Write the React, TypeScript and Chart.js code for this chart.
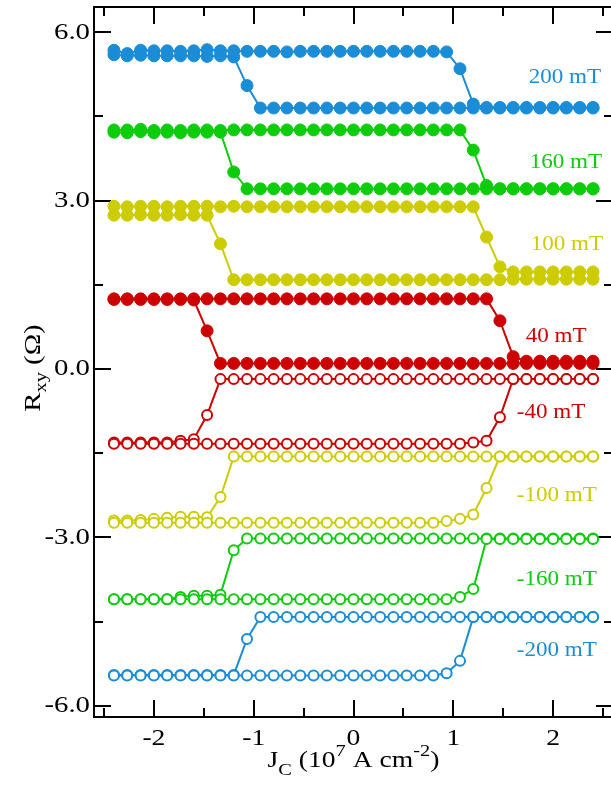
import React, { useEffect, useRef } from "react";
import { Chart, registerables } from "chart.js";

Chart.register(...registerables);

// Current density sweep points, J_C in 10^7 A cm^-2
const J_C = [
  -2.4, -2.267, -2.133, -2.0, -1.867, -1.733, -1.6, -1.467, -1.333, -1.2,
  -1.067, -0.933, -0.8, -0.667, -0.533, -0.4, -0.267, -0.133, 0, 0.133,
  0.267, 0.4, 0.533, 0.667, 0.8, 0.933, 1.067, 1.2, 1.333, 1.467,
  1.6, 1.733, 1.867, 2.0, 2.133, 2.267, 2.4,
];

// R_xy (Ω), increasing-current branch ("UP") and decreasing-current branch ("DN"),
// both listed in the order of J_C above.
const UP_200 = [
  5.68, 5.62, 5.68, 5.67, 5.67, 5.66, 5.67, 5.69, 5.67, 5.67,
  5.66, 5.66, 5.66, 5.65, 5.66, 5.66, 5.66, 5.66, 5.66, 5.66,
  5.66, 5.66, 5.66, 5.66, 5.66, 5.65, 5.35, 4.72, 4.66, 4.66,
  4.66, 4.66, 4.66, 4.66, 4.66, 4.66, 4.66,
];
const DN_200 = [
  5.6, 5.58, 5.59, 5.58, 5.58, 5.58, 5.58, 5.57, 5.58, 5.56,
  5.05, 4.65, 4.65, 4.65, 4.65, 4.65, 4.65, 4.65, 4.65, 4.65,
  4.65, 4.65, 4.65, 4.65, 4.65, 4.65, 4.65, 4.65, 4.65, 4.65,
  4.65, 4.65, 4.65, 4.65, 4.65, 4.65, 4.65,
];

const UP_160 = [
  4.26, 4.26, 4.27, 4.25, 4.26, 4.25, 4.26, 4.26, 4.25, 4.26,
  4.26, 4.26, 4.26, 4.26, 4.26, 4.26, 4.26, 4.26, 4.26, 4.26,
  4.26, 4.26, 4.26, 4.26, 4.26, 4.26, 4.26, 3.9, 3.27, 3.21,
  3.21, 3.21, 3.21, 3.21, 3.21, 3.21, 3.21,
];
const DN_160 = [
  4.22, 4.21, 4.23, 4.21, 4.22, 4.21, 4.22, 4.22, 4.22, 3.51,
  3.21, 3.21, 3.21, 3.21, 3.21, 3.21, 3.21, 3.21, 3.21, 3.21,
  3.21, 3.21, 3.21, 3.21, 3.21, 3.21, 3.21, 3.21, 3.21, 3.21,
  3.21, 3.21, 3.21, 3.21, 3.21, 3.21, 3.21,
];

const UP_100 = [
  2.9, 2.89, 2.9, 2.9, 2.89, 2.9, 2.9, 2.9, 2.89, 2.9,
  2.89, 2.89, 2.89, 2.89, 2.89, 2.89, 2.89, 2.89, 2.89, 2.89,
  2.89, 2.89, 2.89, 2.89, 2.89, 2.89, 2.89, 2.89, 2.35, 1.82,
  1.73, 1.73, 1.73, 1.73, 1.73, 1.73, 1.73,
];
const DN_100 = [
  2.74, 2.74, 2.75, 2.74, 2.74, 2.75, 2.74, 2.74, 2.23, 1.59,
  1.59, 1.59, 1.59, 1.59, 1.59, 1.59, 1.59, 1.59, 1.59, 1.59,
  1.59, 1.59, 1.59, 1.59, 1.59, 1.59, 1.59, 1.59, 1.59, 1.59,
  1.6, 1.6, 1.6, 1.6, 1.6, 1.6, 1.6,
];

const UP_40 = [
  1.25, 1.25, 1.25, 1.25, 1.25, 1.25, 1.25, 1.25, 1.25, 1.25,
  1.25, 1.25, 1.25, 1.25, 1.25, 1.25, 1.25, 1.25, 1.25, 1.25,
  1.25, 1.25, 1.25, 1.25, 1.25, 1.25, 1.25, 1.25, 1.25, 0.86,
  0.22, 0.14, 0.14, 0.14, 0.14, 0.14, 0.14,
];
const DN_40 = [
  1.24, 1.24, 1.24, 1.24, 1.24, 1.24, 1.23, 0.68, 0.1, 0.1,
  0.1, 0.1, 0.1, 0.1, 0.1, 0.1, 0.1, 0.1, 0.1, 0.1,
  0.1, 0.1, 0.1, 0.1, 0.1, 0.1, 0.1, 0.1, 0.1, 0.1,
  0.1, 0.1, 0.1, 0.1, 0.1, 0.1, 0.1,
];

const UP_N40 = [
  -1.33, -1.33, -1.33, -1.33, -1.33, -1.33, -1.33, -1.33, -1.33, -1.33,
  -1.33, -1.33, -1.33, -1.33, -1.33, -1.33, -1.33, -1.33, -1.33, -1.33,
  -1.33, -1.33, -1.33, -1.33, -1.33, -1.33, -1.33, -1.31, -1.28, -0.86,
  -0.18, -0.18, -0.18, -0.18, -0.18, -0.18, -0.18,
];
const DN_N40 = [
  -1.31, -1.31, -1.31, -1.31, -1.31, -1.28, -1.25, -0.82, -0.18, -0.18,
  -0.18, -0.18, -0.18, -0.18, -0.18, -0.18, -0.18, -0.18, -0.18, -0.18,
  -0.18, -0.18, -0.18, -0.18, -0.18, -0.18, -0.18, -0.18, -0.18, -0.18,
  -0.18, -0.18, -0.18, -0.18, -0.18, -0.18, -0.18,
];

const UP_N100 = [
  -2.74, -2.74, -2.74, -2.74, -2.74, -2.74, -2.74, -2.74, -2.74, -2.74,
  -2.74, -2.74, -2.74, -2.74, -2.74, -2.74, -2.74, -2.74, -2.74, -2.74,
  -2.74, -2.74, -2.74, -2.74, -2.74, -2.71, -2.67, -2.59, -2.12, -1.56,
  -1.56, -1.56, -1.56, -1.56, -1.56, -1.56, -1.56,
];
const DN_N100 = [
  -2.7, -2.7, -2.69, -2.67, -2.65, -2.63, -2.63, -2.64, -2.28, -1.56,
  -1.56, -1.56, -1.56, -1.56, -1.56, -1.56, -1.56, -1.56, -1.56, -1.56,
  -1.56, -1.56, -1.56, -1.56, -1.56, -1.56, -1.56, -1.56, -1.56, -1.56,
  -1.56, -1.56, -1.56, -1.56, -1.56, -1.56, -1.56,
];

const UP_N160 = [
  -4.1, -4.1, -4.1, -4.1, -4.1, -4.1, -4.1, -4.1, -4.1, -4.1,
  -4.1, -4.1, -4.1, -4.1, -4.1, -4.1, -4.1, -4.1, -4.1, -4.1,
  -4.1, -4.1, -4.1, -4.1, -4.1, -4.1, -4.06, -3.92, -3.03, -3.03,
  -3.03, -3.03, -3.03, -3.03, -3.03, -3.03, -3.03,
];
const DN_N160 = [
  -4.1, -4.1, -4.1, -4.1, -4.1, -4.06, -4.04, -4.04, -4.02, -3.23,
  -3.02, -3.02, -3.02, -3.02, -3.02, -3.02, -3.02, -3.02, -3.02, -3.02,
  -3.02, -3.02, -3.02, -3.02, -3.02, -3.02, -3.02, -3.02, -3.02, -3.02,
  -3.02, -3.02, -3.02, -3.02, -3.02, -3.02, -3.02,
];

const UP_N200 = [
  -5.46, -5.46, -5.46, -5.46, -5.46, -5.46, -5.46, -5.46, -5.46, -5.46,
  -5.46, -5.46, -5.46, -5.46, -5.46, -5.46, -5.46, -5.46, -5.46, -5.46,
  -5.46, -5.46, -5.46, -5.46, -5.46, -5.42, -5.2, -4.42, -4.42, -4.42,
  -4.42, -4.42, -4.42, -4.42, -4.42, -4.42, -4.42,
];
const DN_N200 = [
  -5.45, -5.45, -5.45, -5.45, -5.45, -5.45, -5.45, -5.45, -5.45, -5.45,
  -4.81, -4.42, -4.42, -4.42, -4.42, -4.42, -4.42, -4.42, -4.42, -4.42,
  -4.42, -4.42, -4.42, -4.42, -4.42, -4.42, -4.42, -4.42, -4.42, -4.42,
  -4.42, -4.42, -4.42, -4.42, -4.42, -4.42, -4.42,
];

// Field labels and where each one sits (left edge in J_C, centre in R_xy)
const FIELD_LABELS = ["200 mT", "160 mT", "100 mT", "40 mT", "-40 mT", "-100 mT", "-160 mT", "-200 mT"];
const LABEL_J = [1.755, 1.765, 1.775, 1.725, 1.635, 1.635, 1.635, 1.635];
const LABEL_R = [5.2, 3.69, 2.22, 0.59, -0.77, -2.25, -3.74, -5.01];

// Axis ticks
const X_MAJOR = [-2, -1, 0, 1, 2];
const X_TICK_LABELS = ["-2", "-1", "0", "1", "2"];
const X_MINOR = [-2.5, -1.5, -0.5, 0.5, 1.5, 2.5];
const Y_MAJOR = [-6, -3, 0, 3, 6];
const Y_TICK_LABELS = ["-6.0", "-3.0", "0.0", "3.0", "6.0"];
const Y_MINOR = [-4.5, -1.5, 1.5, 4.5];

const BLUE = "#1a8dd6";
const GREEN = "#0ccc0c";
const YELLOW = "#cccc00";
const RED = "#cc0000";

const SERIES = [
  { color: BLUE, filled: true, up: UP_200, dn: DN_200 },
  { color: GREEN, filled: true, up: UP_160, dn: DN_160 },
  { color: YELLOW, filled: true, up: UP_100, dn: DN_100 },
  { color: RED, filled: true, up: UP_40, dn: DN_40 },
  { color: RED, filled: false, up: UP_N40, dn: DN_N40 },
  { color: YELLOW, filled: false, up: UP_N100, dn: DN_N100 },
  { color: GREEN, filled: false, up: UP_N160, dn: DN_N160 },
  { color: BLUE, filled: false, up: UP_N200, dn: DN_N200 },
];

const SERIF = '"Liberation Serif", "Times New Roman", serif';
const STRETCH = 1.2;

type Seg = { text: string; size: number; dy: number };

function drawRich(ctx: CanvasRenderingContext2D, segs: Seg[], sx: number) {
  const widths = segs.map((s) => {
    ctx.font = `${s.size}px ${SERIF}`;
    return ctx.measureText(s.text).width;
  });
  const total = widths.reduce((a, b) => a + b, 0);
  ctx.save();
  ctx.scale(sx, 1);
  ctx.textAlign = "left";
  ctx.textBaseline = "alphabetic";
  let x = -total / 2;
  segs.forEach((s, i) => {
    ctx.font = `${s.size}px ${SERIF}`;
    ctx.fillText(s.text, x, s.dy);
    x += widths[i];
  });
  ctx.restore();
}

function drawStretched(
  ctx: CanvasRenderingContext2D,
  text: string,
  x: number,
  y: number,
  align: CanvasTextAlign,
  baseline: CanvasTextBaseline,
  size: number,
  sx: number
) {
  ctx.save();
  ctx.translate(x, y);
  ctx.scale(sx, 1);
  ctx.font = `${size}px ${SERIF}`;
  ctx.textAlign = align;
  ctx.textBaseline = baseline;
  ctx.fillText(text, 0, 0);
  ctx.restore();
}

const framePlugin = {
  id: "frameTicks",
  beforeDatasetsDraw(chart: any) {
    const { ctx, chartArea } = chart;
    const { left, right, top, bottom } = chartArea;
    const xs = chart.scales.x;
    const ys = chart.scales.y;
    ctx.save();
    ctx.strokeStyle = "#000";
    ctx.lineWidth = 2;
    ctx.beginPath();
    const tick = (vals: number[], len: number) => {
      vals.forEach((v) => {
        const px = Math.round(xs.getPixelForValue(v));
        ctx.moveTo(px, bottom);
        ctx.lineTo(px, bottom - len);
        ctx.moveTo(px, top);
        ctx.lineTo(px, top + len);
      });
    };
    const ytick = (vals: number[], len: number) => {
      vals.forEach((v) => {
        const py = Math.round(ys.getPixelForValue(v));
        ctx.moveTo(left, py);
        ctx.lineTo(left + len, py);
        ctx.moveTo(right, py);
        ctx.lineTo(right - len, py);
      });
    };
    tick(X_MAJOR, 17);
    tick(X_MINOR, 9);
    ytick(Y_MAJOR, 17);
    ytick(Y_MINOR, 9);
    ctx.stroke();
    ctx.strokeRect(left, top, right - left, bottom - top);
    ctx.restore();
  },
  afterDatasetsDraw(chart: any) {
    const { ctx, chartArea } = chart;
    const xs = chart.scales.x;
    const ys = chart.scales.y;
    ctx.save();
    ctx.fillStyle = "#000";
    // tick labels
    X_MAJOR.forEach((v, i) => {
      drawStretched(ctx, X_TICK_LABELS[i], xs.getPixelForValue(v), chartArea.bottom + 28, "center", "alphabetic", 23, STRETCH);
    });
    Y_MAJOR.forEach((v, i) => {
      drawStretched(ctx, Y_TICK_LABELS[i], chartArea.left - 4, ys.getPixelForValue(v), "right", "middle", 24, STRETCH);
    });
    // x title: J_C (10^7 A cm^-2)
    ctx.save();
    ctx.translate((chartArea.left + chartArea.right) / 2, chartArea.bottom + 50);
    drawRich(
      ctx,
      [
        { text: "J", size: 23, dy: 0 },
        { text: "C", size: 17, dy: 8 },
        { text: " (10", size: 23, dy: 0 },
        { text: "7", size: 17, dy: -11 },
        { text: " A cm", size: 23, dy: 0 },
        { text: "-2", size: 17, dy: -11 },
        { text: ")", size: 23, dy: 0 },
      ],
      STRETCH
    );
    ctx.restore();
    // y title: R_xy (Ω)
    ctx.save();
    ctx.translate(40, (chartArea.top + chartArea.bottom) / 2 + 6);
    ctx.rotate(-Math.PI / 2);
    drawRich(
      ctx,
      [
        { text: "R", size: 24, dy: 0 },
        { text: "xy", size: 17, dy: 6 },
        { text: " (Ω)", size: 24, dy: 0 },
      ],
      STRETCH
    );
    ctx.restore();
    // field labels
    FIELD_LABELS.forEach((lab, i) => {
      ctx.fillStyle = SERIES[i].color;
      drawStretched(ctx, lab, xs.getPixelForValue(LABEL_J[i]), ys.getPixelForValue(LABEL_R[i]), "left", "middle", 22, 1.05);
    });
    ctx.restore();
  },
};

export default function App() {
  const canvasRef = useRef<HTMLCanvasElement | null>(null);

  useEffect(() => {
    document.body.style.margin = "0";
    const canvas = canvasRef.current;
    if (!canvas) return;

    const datasets: any[] = [];
    SERIES.forEach((s, si) => {
      [s.up, s.dn].forEach((vals, bi) => {
        datasets.push({
          label: `${FIELD_LABELS[si]} ${bi === 0 ? "up" : "down"}`,
          data: J_C.map((x, i) => ({ x, y: vals[i] })),
          showLine: true,
          borderColor: s.color,
          borderWidth: 2,
          pointRadius: s.filled ? 6 : 5,
          pointBorderWidth: s.filled ? 1 : 2,
          pointBackgroundColor: s.filled ? s.color : "#ffffff",
          pointBorderColor: s.color,
          pointHoverRadius: s.filled ? 6 : 5,
        });
      });
    });

    const chart = new Chart(canvas, {
      type: "scatter",
      data: { datasets },
      options: {
        animation: false,
        responsive: false,
        devicePixelRatio: 1,
        layout: { padding: { top: 7, right: 5, left: 0, bottom: 0 } },
        plugins: { legend: { display: false }, tooltip: { enabled: false } },
        events: [],
        scales: {
          x: {
            type: "linear",
            min: -2.6,
            max: 2.6,
            grid: { display: false },
            border: { display: false },
            ticks: { display: false },
            afterFit: (scale: any) => {
              scale.height = 77;
            },
          },
          y: {
            type: "linear",
            min: -6.2,
            max: 6.45,
            grid: { display: false },
            border: { display: false },
            ticks: { display: false },
            afterFit: (scale: any) => {
              scale.width = 94;
            },
          },
        },
      },
      plugins: [framePlugin],
    });

    return () => {
      chart.destroy();
    };
  }, []);

  return (
    <div style={{ width: 611, height: 794, overflow: "hidden", position: "relative", background: "#fff" }}>
      <canvas ref={canvasRef} width={620} height={794} style={{ display: "block", width: 620, height: 794 }} />
    </div>
  );
}
